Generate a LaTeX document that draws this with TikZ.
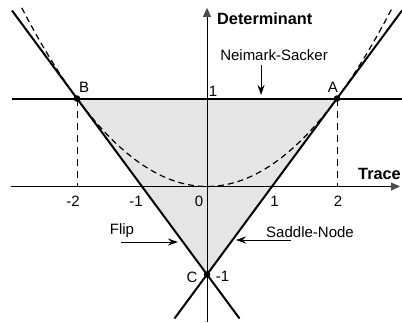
\documentclass[tikz,border=0pt]{standalone}
\usepackage{fontspec}
\setmainfont{Liberation Sans}
\usetikzlibrary{arrows.meta}
\begin{document}
\begin{tikzpicture}[x=65pt,y=88pt,
  mainline/.style={line width=2pt,black},
  axisline/.style={line width=0.9pt,black},
  dashline/.style={line width=1.2pt,dash pattern=on 6pt off 4pt},
  vdash/.style={line width=0.9pt,dash pattern=on 7pt off 5pt},
  lbl/.style={font=\fontsize{15}{17}\selectfont,inner sep=0pt},
  blbl/.style={font=\fontsize{16.3}{18}\selectfont\bfseries,inner sep=0pt},
  ptr/.style={line width=1pt,-{Stealth[length=10pt,width=7pt]}},
  axarrow/.style={-{Triangle[length=9pt,width=8pt,color=black!70]}},
  dot/.style={circle,fill=black,inner sep=0pt,minimum size=6.5pt}]
\useasboundingbox (-207pt,-135.5pt) rectangle (195pt,186.5pt);
% coordinates
\coordinate (A) at (2,1);
\coordinate (B) at (-2,1);
\coordinate (C) at (0,-1);
\coordinate (O) at (0,0);
\coordinate (A0) at (2,0);
\coordinate (B0) at (-2,0);
% shaded triangle
\fill[gray!20] (A) -- (B) -- (C) -- cycle;
% axes
\coordinate (xl) at (-3.015,0);
\coordinate (xr) at (2.97,0);
\coordinate (yb) at (0,-1.54);
\coordinate (yt) at (0,2.03);
\draw[axisline,axarrow] (xl) -- (xr);
\draw[axisline,axarrow] (yb) -- (yt);
% dashed verticals
\draw[vdash] (B) -- (B0);
\draw[vdash] (A) -- (A0);
% parabola
\draw[dashline] plot[domain=-2.85:2.85,samples=80] (\x,{\x*\x/4});
% main lines
\coordinate (L1) at (-3,2);
\coordinate (L2) at (0.5,-1.5);
\coordinate (R1) at (3,2);
\coordinate (R2) at (-0.5,-1.5);
\coordinate (H1) at (-3,1);
\coordinate (H2) at (3,1);
\draw[mainline] (L1) -- (L2);
\draw[mainline] (R1) -- (R2);
\draw[mainline] (H1) -- (H2);
% points
\node[dot] (pA) at (A) {};
\node[dot] (pB) at (B) {};
\node[dot] (pC) at (C) {};
% labels
\node[lbl] (lB) at (-1.892,1.131) {B};
\node[lbl] (lA) at (1.938,1.131) {A};
\node[lbl] (lC) at (-0.231,-1.028) {C};
\node[lbl] (lm1y) at (0.238,-1.017) {-1};
\node[lbl] (l1y) at (0.092,1.085) {1};
\node[lbl] (tm2) at (-2.062,-0.165) {-2};
\node[lbl] (tm1) at (-1.092,-0.165) {-1};
\node[lbl] (t0) at (-0.123,-0.165) {0};
\node[lbl] (t1) at (1.038,-0.165) {1};
\node[lbl] (t2) at (2.015,-0.165) {2};
\node[blbl,anchor=west] (det) at (0.154,1.903) {Determinant};
\node[blbl,anchor=west] (tr) at (2.323,0.142) {Trace};
% Neimark-Sacker
\node[lbl] (ns) at (1.031,1.494) {Neimark-Sacker};
\coordinate (nsA) at (0.831,1.381);
\coordinate (nsB) at (0.831,1.04);
\draw[ptr] (nsA) -- (nsB);
% Flip
\node[lbl] (fl) at (-1.308,-0.506) {Flip};
\coordinate (flA) at (-1.323,-0.631);
\coordinate (flB) at (-0.446,-0.631);
\draw[ptr] (flA) -- (flB);
% Saddle-Node
\node[lbl] (sn) at (1.585,-0.517) {Saddle-Node};
\coordinate (snA) at (1.292,-0.608);
\coordinate (snB) at (0.446,-0.608);
\draw[ptr] (snA) -- (snB);
\end{tikzpicture}
\end{document}
